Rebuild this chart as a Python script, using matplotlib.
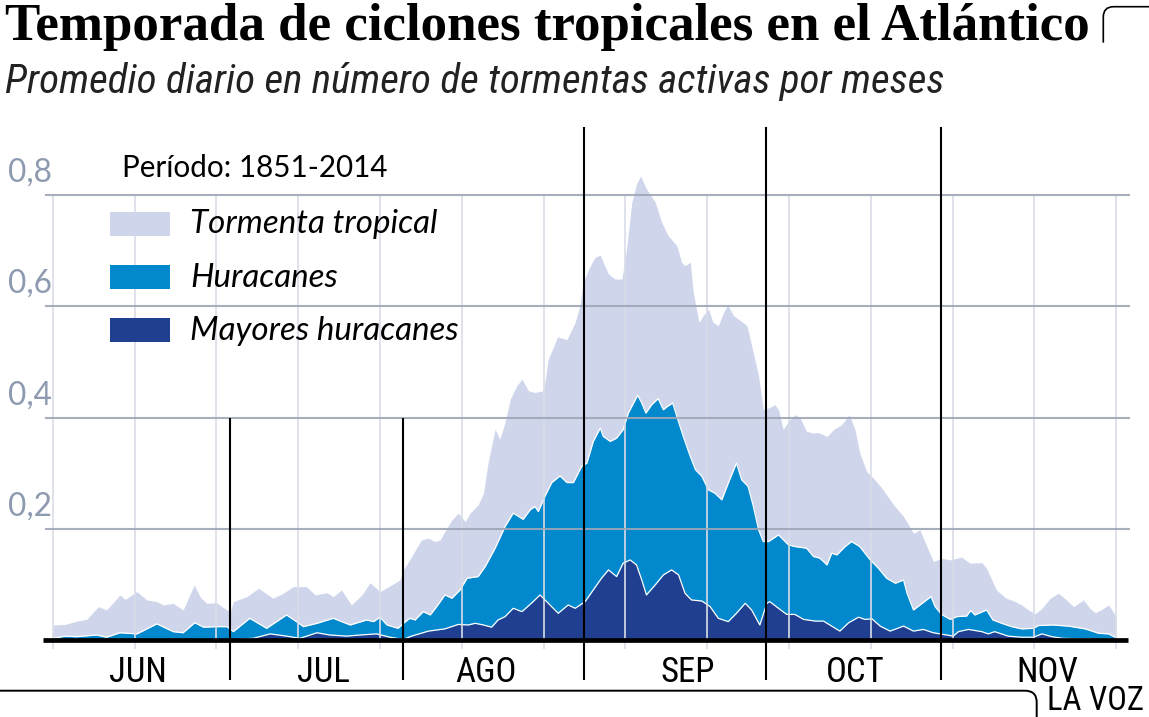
import matplotlib
matplotlib.use("Agg")
import matplotlib.pyplot as plt
from matplotlib import font_manager as fm
from matplotlib import transforms
from matplotlib.patches import Rectangle, PathPatch
from matplotlib.path import Path

# ---------------- DATA ----------------
# x = day of season (0 = 1 June ... 182 = 30 November), y = mean daily number of active storms
tt_day = [0.0, 2.1, 4.1, 5.8, 7.8, 9.2, 11.5, 12.4, 14.4, 16.1, 17.8, 18.9, 20.6, 22.3, 24.2, 25.2, 26.3, 28.0,
          29.8, 30.4, 30.9, 33.2, 35.2, 37.7, 39.4, 41.2, 43.4, 44.9, 46.9, 48.0, 49.4, 51.1, 52.9, 54.3, 56.0,
          58.0, 59.4, 60.0, 61.4, 63.1, 64.3, 65.4, 66.3, 67.1, 68.3, 69.4, 70.6, 71.4, 72.8, 73.7, 74.5, 75.7,
          76.5, 77.4, 78.3, 79.4, 80.3, 81.4, 82.5, 84.0, 84.8, 86.4, 88.0, 89.4, 90.2, 90.8, 91.7, 92.8, 93.7,
          94.2, 95.1, 96.2, 97.4, 98.2, 99.1, 99.9, 100.6, 101.6, 103.1, 104.2, 105.3, 106.8, 107.6, 108.2,
          109.1, 109.6, 110.6, 111.3, 112.2, 113.0, 113.9, 114.8, 115.5, 116.5, 117.3, 118.8, 119.6, 120.8,
          121.6, 122.5, 123.6, 124.2, 125.0, 125.9, 127.0, 127.9, 129.0, 130.2, 131.0, 132.5, 133.6, 135.0,
          136.3, 137.3, 138.1, 139.3, 140.7, 142.1, 143.9, 145.6, 147.3, 148.4, 149.6, 150.7, 152.1, 153.6,
          155.5, 157.0, 159.0, 159.8, 160.7, 161.5, 163.0, 164.7, 165.8, 167.0, 168.1, 169.3, 170.7, 172.1,
          173.5, 174.7, 176.4, 177.5, 178.4, 179.5, 180.7, 181.8, 182.0]
tt_val = [0.027, 0.028, 0.034, 0.037, 0.060, 0.054, 0.081, 0.073, 0.087, 0.072, 0.069, 0.063, 0.066, 0.054,
          0.099, 0.078, 0.066, 0.067, 0.054, 0.051, 0.069, 0.078, 0.093, 0.075, 0.084, 0.096, 0.096, 0.081,
          0.085, 0.078, 0.090, 0.063, 0.081, 0.103, 0.087, 0.099, 0.108, 0.126, 0.150, 0.180, 0.183, 0.177,
          0.180, 0.195, 0.216, 0.228, 0.213, 0.228, 0.243, 0.264, 0.319, 0.379, 0.361, 0.391, 0.433, 0.457,
          0.469, 0.448, 0.445, 0.448, 0.505, 0.545, 0.540, 0.571, 0.601, 0.643, 0.667, 0.688, 0.692, 0.679,
          0.658, 0.649, 0.649, 0.703, 0.787, 0.820, 0.834, 0.811, 0.787, 0.751, 0.727, 0.709, 0.679, 0.673,
          0.679, 0.625, 0.571, 0.583, 0.595, 0.571, 0.565, 0.589, 0.602, 0.583, 0.577, 0.565, 0.529, 0.474,
          0.414, 0.417, 0.423, 0.414, 0.378, 0.393, 0.405, 0.399, 0.375, 0.372, 0.373, 0.366, 0.378, 0.387,
          0.405, 0.378, 0.336, 0.303, 0.288, 0.270, 0.243, 0.222, 0.192, 0.198, 0.168, 0.141, 0.147, 0.144,
          0.149, 0.138, 0.139, 0.129, 0.108, 0.090, 0.076, 0.069, 0.063, 0.054, 0.047, 0.057, 0.075, 0.084,
          0.072, 0.060, 0.072, 0.057, 0.049, 0.055, 0.063, 0.045, 0.045]

hu_day = [0.0, 2.1, 4.1, 7.5, 9.2, 11.5, 14.4, 17.8, 20.6, 22.3, 24.3, 25.8, 28.0, 29.8, 30.9, 33.7, 36.6, 40.0,
          41.7, 42.9, 45.2, 48.0, 50.9, 53.7, 54.9, 56.0, 57.2, 59.1, 60.0, 61.1, 62.0, 63.4, 64.6, 65.7, 67.1,
          68.3, 69.7, 70.9, 72.8, 74.0, 75.7, 77.4, 78.8, 80.5, 81.7, 82.5, 83.1, 84.2, 85.4, 86.8, 88.0, 89.1,
          90.5, 91.4, 92.5, 93.7, 94.2, 95.4, 96.5, 97.6, 98.5, 99.4, 100.1, 100.8, 101.5, 102.5, 103.6, 104.5,
          105.2, 106.1, 106.8, 107.9, 109.1, 110.0, 111.1, 112.2, 113.3, 114.5, 115.6, 117.0, 117.9, 119.0,
          119.9, 120.8, 121.6, 122.5, 124.2, 125.9, 127.0, 129.0, 130.2, 131.3, 132.5, 133.3, 134.2, 135.6,
          136.7, 138.1, 139.9, 141.3, 142.7, 144.2, 145.6, 146.2, 147.3, 148.8, 150.3, 151.0, 152.1, 153.6,
          154.7, 156.4, 157.1, 157.8, 159.8, 160.9, 162.4, 164.1, 165.8, 167.8, 168.7, 171.0, 173.8, 176.7,
          179.0, 180.7, 181.8, 182.0]
hu_val = [0.003, 0.007, 0.006, 0.009, 0.005, 0.013, 0.011, 0.029, 0.015, 0.013, 0.031, 0.023, 0.024, 0.024,
          0.015, 0.039, 0.021, 0.045, 0.033, 0.024, 0.030, 0.039, 0.027, 0.036, 0.033, 0.041, 0.027, 0.021,
          0.030, 0.039, 0.036, 0.051, 0.045, 0.060, 0.081, 0.075, 0.090, 0.111, 0.114, 0.132, 0.165, 0.204,
          0.228, 0.217, 0.234, 0.240, 0.231, 0.258, 0.283, 0.295, 0.283, 0.283, 0.312, 0.318, 0.357, 0.381,
          0.366, 0.357, 0.363, 0.378, 0.408, 0.426, 0.440, 0.426, 0.408, 0.423, 0.434, 0.414, 0.420, 0.426,
          0.402, 0.366, 0.330, 0.306, 0.294, 0.270, 0.264, 0.252, 0.282, 0.318, 0.288, 0.276, 0.240, 0.198,
          0.177, 0.177, 0.189, 0.171, 0.168, 0.165, 0.150, 0.147, 0.135, 0.156, 0.153, 0.168, 0.177, 0.168,
          0.144, 0.129, 0.111, 0.102, 0.108, 0.084, 0.054, 0.066, 0.078, 0.060, 0.046, 0.037, 0.042, 0.043,
          0.053, 0.045, 0.054, 0.036, 0.030, 0.024, 0.020, 0.021, 0.026, 0.027, 0.025, 0.020, 0.012, 0.011,
          0.005, 0.005]

ma_day = [0.0, 10.0, 20.0, 30.9, 34.3, 37.2, 40.0, 42.3, 45.2, 47.4, 50.3, 52.6, 55.4, 57.7, 60.0, 61.4, 64.3,
          67.1, 69.4, 71.1, 72.3, 73.7, 75.1, 76.2, 77.4, 78.8, 80.3, 81.9, 83.4, 84.8, 86.5, 88.2, 89.4, 91.1,
          92.5, 93.9, 95.1, 96.5, 97.6, 98.8, 99.9, 100.8, 101.6, 103.1, 104.5, 105.9, 107.1, 108.2, 109.3,
          111.1, 112.5, 113.9, 115.6, 117.0, 118.5, 119.6, 121.0, 122.2, 122.7, 124.2, 125.6, 127.0, 128.5,
          130.5, 131.9, 133.3, 134.7, 136.2, 137.9, 139.0, 140.2, 141.6, 143.3, 145.6, 147.3, 149.0, 150.7,
          152.4, 154.1, 155.0, 156.7, 159.0, 160.1, 161.2, 163.5, 165.8, 167.8, 169.3, 171.0, 172.8, 176.0,
          181.8, 182.0]
ma_val = [0.000, 0.001, 0.001, 0.001, 0.003, 0.011, 0.007, 0.003, 0.013, 0.009, 0.007, 0.009, 0.011, 0.005,
          0.001, 0.007, 0.016, 0.020, 0.028, 0.027, 0.030, 0.027, 0.023, 0.036, 0.042, 0.057, 0.051, 0.066,
          0.081, 0.066, 0.048, 0.063, 0.057, 0.069, 0.090, 0.111, 0.126, 0.114, 0.138, 0.144, 0.135, 0.108,
          0.081, 0.099, 0.117, 0.126, 0.117, 0.084, 0.072, 0.070, 0.060, 0.039, 0.033, 0.048, 0.066, 0.054,
          0.027, 0.066, 0.069, 0.057, 0.046, 0.046, 0.037, 0.034, 0.034, 0.025, 0.016, 0.031, 0.041, 0.037,
          0.038, 0.025, 0.016, 0.025, 0.016, 0.019, 0.013, 0.010, 0.007, 0.015, 0.019, 0.015, 0.011, 0.015,
          0.007, 0.005, 0.005, 0.011, 0.006, 0.003, 0.002, 0.001, 0.001]

series_names = ["Tormenta tropical", "Huracanes", "Mayores huracanes"]
series_colors = ["#cfd6ec", "#0288cc", "#213f90"]
month_labels = ["JUN", "JUL", "AGO", "SEP", "OCT", "NOV"]
month_label_day = [14.5, 46.4, 74.1, 108.7, 137.4, 170.2]
month_start_day = [30.3, 59.9, 90.9, 122.0, 152.0]
y_ticks = [0.2, 0.4, 0.6, 0.8]
y_tick_labels = ["0,2", "0,4", "0,6", "0,8"]
grid_days = list(range(0, 183, 14))

assert len(tt_day) == len(tt_val)
assert len(hu_day) == len(hu_val)
assert len(ma_day) == len(ma_val)

# ---------------- FONTS ----------------
names = {f.name for f in fm.fontManager.ttflist}
def pick(*cands):
    for c in cands:
        if c in names:
            return c
    return "DejaVu Sans"
NARROW = pick("Liberation Sans Narrow", "Roboto Condensed", "DejaVu Sans")
SANS = pick("Lato", "Open Sans", "DejaVu Sans")
SERIF = pick("Liberation Serif", "DejaVu Serif")

# ---------------- FIGURE ----------------
W, H = 1149, 717
fig = plt.figure(figsize=(W / 100, H / 100), dpi=100)
renderer = fig.canvas.get_renderer()

# pixel layout of the plot area
PX0, PXD = 52.8, 5.843          # px of day 0, px per day
PY0, PYU = 640.0, 556.25        # px of value 0, px per unit
AX_L, AX_R, AX_T, AX_B = 42, 1130, 110, 700
ax = fig.add_axes([AX_L / W, (H - AX_B) / H, (AX_R - AX_L) / W, (AX_B - AX_T) / H])
ax.set_xlim((AX_L - PX0) / PXD, (AX_R - PX0) / PXD)
ax.set_ylim(-(AX_B - PY0) / PYU, (PY0 - AX_T) / PYU)
ax.axis("off")

def dx(px):
    return (px - PX0) / PXD
def dy(py):
    return (PY0 - py) / PYU

# areas
ax.fill_between(tt_day, 0, tt_val, color=series_colors[0], lw=0, zorder=1)
ax.fill_between(hu_day, 0, hu_val, color=series_colors[1], lw=0, zorder=2)
ax.plot(hu_day[:-1], hu_val[:-1], color="white", lw=0.9, zorder=2.1)
ax.fill_between(ma_day, 0, ma_val, color=series_colors[2], lw=0, zorder=3)
ax.plot(ma_day[:-1], ma_val[:-1], color="white", lw=0.9, zorder=3.1)

# grids
ax.vlines(grid_days, dy(649), 0.8, color="#d9dde6", lw=1.2, zorder=4)
ax.hlines(y_ticks, dx(45), dx(1130), color="#9ea6b6", lw=1.5, alpha=0.9, zorder=5)
# month separators
for i, d in enumerate(month_start_day):
    top = 0.4 if i < 2 else dy(127)
    ax.vlines(d, dy(680), top, color="black", lw=1.5, zorder=6)
# baseline
ax.hlines(0, dx(42.7), dx(1128), color="black", lw=3.4, zorder=7)

# overlay in pixel coordinates
ov = fig.add_axes([0, 0, 1, 1], zorder=10)
ov.set_xlim(0, W)
ov.set_ylim(H, 0)
ov.axis("off")
ov.patch.set_alpha(0)

def fit(t, target):
    t.set_fontsize(20)
    w = t.get_window_extent(renderer).width
    t.set_fontsize(20 * target / w)
    return t

# y tick labels
tr_y = transforms.blended_transform_factory(ov.transData, ax.transData)
off = transforms.ScaledTranslation(0, 13.3 / 100, fig.dpi_scale_trans)
ylab = []
for v, s in zip(y_ticks, y_tick_labels):
    t = ax.text(8, v, s, transform=tr_y + off, ha="left", va="baseline",
                family=SANS, color="#8d9ab0")
    ylab.append(t)
fit(ylab[-1], 44)
for t in ylab:
    t.set_fontsize(ylab[-1].get_fontsize())

# month labels
tr_x = transforms.blended_transform_factory(ax.transData, ov.transData)
for d, s in zip(month_label_day, month_labels):
    ax.text(d, 681.7, s, transform=tr_x, ha="center", va="baseline",
            family=NARROW, fontsize=25.0, color="black")

# title / subtitle
t = ov.text(5, 40, "Temporada de ciclones tropicales en el Atlántico", ha="left", va="baseline",
            family=SERIF, weight="bold", color="black")
fit(t, 1087)
t = ov.text(5, 92.7, "Promedio diario en número de tormentas activas por meses", ha="left",
            va="baseline", family=NARROW, style="italic", color="#222222")
fit(t, 938)

# legend
t = ov.text(122, 176.7, "Período: 1851-2014", ha="left", va="baseline", family=SANS, color="black")
fit(t, 265)
leg_y = [211.7, 265.0, 318.3]
leg_base = [233.3, 286.7, 340.0]
lt = []
for y0, yb, name, col in zip(leg_y, leg_base, series_names, series_colors):
    ov.add_patch(Rectangle((110, y0), 60, 24, facecolor=col, edgecolor="none"))
    lt.append(ov.text(190, yb, name, ha="left", va="baseline", family=SANS, style="italic", color="black"))
fit(lt[0], 247)
for tt in lt:
    tt.set_fontsize(lt[0].get_fontsize())

# brand
t = ov.text(1047, 710.5, "LA VOZ", ha="left", va="baseline", family=NARROW, color="black")
fit(t, 97)

# decorative brackets
p1 = Path([(0, 690.7), (1025, 690.7), (1036.7, 690.7), (1036.7, 702.4), (1036.7, 720)],
          [Path.MOVETO, Path.LINETO, Path.CURVE3, Path.CURVE3, Path.LINETO])
ov.add_patch(PathPatch(p1, fill=False, edgecolor="black", lw=1.4))
p2 = Path([(1103.3, 42.7), (1103.3, 17.0), (1103.3, 6.7), (1113.6, 6.7), (1152, 6.7)],
          [Path.MOVETO, Path.LINETO, Path.CURVE3, Path.CURVE3, Path.LINETO])
ov.add_patch(PathPatch(p2, fill=False, edgecolor="black", lw=1.2))

fig.savefig("out.png", dpi=100)
